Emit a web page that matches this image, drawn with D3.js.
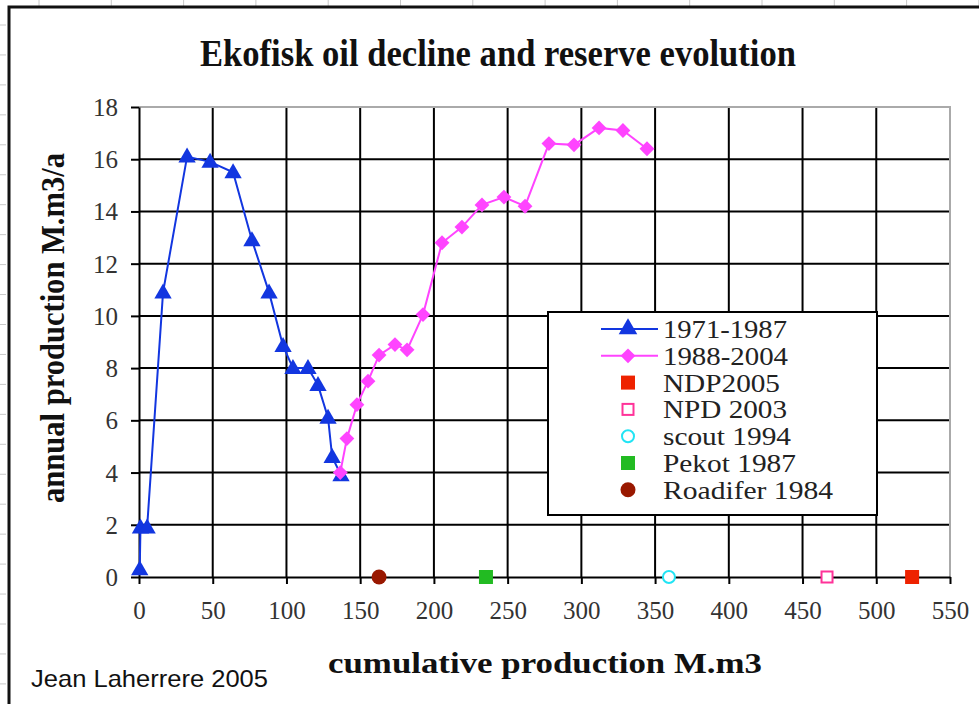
<!DOCTYPE html>
<html>
<head>
<meta charset="utf-8">
<script src="https://cdn.jsdelivr.net/npm/d3@7"></script>
<style>
  body { margin: 0; background: #fff; }
  svg { display: block; }
</style>
</head>
<body>
<svg id="chart" width="979" height="704"></svg>
<script>
// data: [cumulative M.m3, annual M.m3/a]
const early = [[0.5,0.3],[1,1.9],[5.5,1.9],[16.3,10.9],[32.6,16.1],[48.2,15.9],[63.8,15.5],[76.6,12.9],
  [88.2,10.9],[97.7,8.85],[104.4,8.0],[114.6,8.0],[121.4,7.35],[128.2,6.1],[131,4.6],[137,3.9]];
const late = [[136.5,4.0],[141,5.3],[147.8,6.6],[155.3,7.5],[162.8,8.5],[173.6,8.9],[181.8,8.7],
  [192.6,10.05],[205.5,12.8],[219,13.4],[232.6,14.25],[247.5,14.55],[261.8,14.2],[278,16.6],
  [295,16.55],[312,17.2],[328.2,17.1],[344.5,16.4]];
const reserveNames = ['NDP2005','NPD 2003','scout 1994','Pekot 1987','Roadifer 1984'];
const reserveValues = [524.3, 466.6, 359.4, 235.3, 162.8];
const xTicks = d3.range(0, 551, 50);
const yTicks = d3.range(0, 19, 2);

const svg = d3.select('#chart');
const serif = '"Liberation Serif","Times New Roman",serif';

// spreadsheet cells behind the chart object
const bg = svg.append('g').attr('stroke', '#c8c8c8').attr('stroke-width', 1);
d3.range(39, 979, 72.3).forEach(x => bg.append('line').attr('x1', x).attr('x2', x).attr('y1', 0).attr('y2', 6));
d3.range(25, 704, 29.95).forEach(y => bg.append('line').attr('x1', 0).attr('x2', 6).attr('y1', y).attr('y2', y));

// chart frame (runs off the right and bottom edges)
svg.append('path').attr('d', 'M9,710 L9,7 L985,7').attr('fill', 'none')
   .attr('stroke', '#111').attr('stroke-width', 3);

const x = d3.scaleLinear().domain([0, 550]).range([139, 950]);
const y = d3.scaleLinear().domain([0, 18]).range([577, 107]);

// grid
const grid = svg.append('g');
grid.selectAll('.hg').data(yTicks.filter(d => d > 0 && d < 18)).enter().append('line')
  .attr('x1', x(0)).attr('x2', x(550)).attr('y1', d => y(d)).attr('y2', d => y(d))
  .attr('stroke', '#000').attr('stroke-width', 2);
grid.selectAll('.vg').data(xTicks.filter(d => d > 0 && d < 550)).enter().append('line')
  .attr('y1', y(0)).attr('y2', y(18)).attr('x1', d => x(d)).attr('x2', d => x(d))
  .attr('stroke', '#000').attr('stroke-width', 2);
// plot area border top/right (grey)
grid.append('path').attr('d', `M${x(0)},${y(18)} L${x(550)},${y(18)} L${x(550)},${y(0)}`)
  .attr('fill', 'none').attr('stroke', '#aaa').attr('stroke-width', 2);

// axes
const xAxis = svg.append('g').attr('transform', `translate(0,${y(0)})`)
  .call(d3.axisBottom(x).tickValues(xTicks).tickSize(7).tickPadding(10).tickSizeOuter(0));
const yAxis = svg.append('g').attr('transform', `translate(${x(0)},0)`)
  .call(d3.axisLeft(y).tickValues(yTicks).tickSize(8).tickPadding(13).tickSizeOuter(0));
[xAxis, yAxis].forEach(a => {
  a.select('.domain').attr('stroke', '#000').attr('stroke-width', 2);
  a.selectAll('.tick line').attr('stroke', '#000').attr('stroke-width', 2);
  a.selectAll('.tick text').attr('font-family', serif).attr('font-size', 25).attr('fill', '#333');
});
xAxis.selectAll('.tick text').attr('dy', '1.0em');
yAxis.selectAll('.tick text').attr('dy', '0.34em');

// series lines
const line = d3.line().x(d => x(d[0])).y(d => y(d[1]));
const blue = '#1236e0', pink = '#ff44ff';
svg.append('path').datum(early).attr('d', line).attr('fill', 'none').attr('stroke', blue).attr('stroke-width', 2);
svg.append('path').datum(late).attr('d', line).attr('fill', 'none').attr('stroke', pink).attr('stroke-width', 2);

const tri = d3.symbol().type(d3.symbolTriangle).size(130);
const dia = d3.symbol().type(d3.symbolSquare).size(110);
svg.selectAll('.tri').data(early).enter().append('path')
  .attr('d', tri).attr('transform', d => `translate(${x(d[0])},${y(d[1]) + 1})`).attr('fill', blue);
svg.selectAll('.dia').data(late).enter().append('path')
  .attr('d', dia).attr('transform', d => `translate(${x(d[0])},${y(d[1])}) rotate(45)`).attr('fill', pink);

// reserve estimates on the zero line
const styles = {
  'NDP2005':       {shape: 'sq', fill: '#ee2200', stroke: 'none'},
  'NPD 2003':      {shape: 'sq', fill: '#fff', stroke: '#ff3399'},
  'scout 1994':    {shape: 'ci', fill: '#fff', stroke: '#22e4f4'},
  'Pekot 1987':    {shape: 'sq', fill: '#22bb22', stroke: 'none'},
  'Roadifer 1984': {shape: 'ci', fill: '#991800', stroke: 'none'}
};
function marker(g, name, cx, cy) {
  const s = styles[name];
  if (s.shape === 'sq') {
    const w = s.stroke === 'none' ? 14 : 11;
    g.append('rect').attr('x', cx - w / 2).attr('y', cy - w / 2).attr('width', w).attr('height', w)
      .attr('fill', s.fill).attr('stroke', s.stroke).attr('stroke-width', 2);
  } else {
    g.append('circle').attr('cx', cx).attr('cy', cy).attr('r', s.stroke === 'none' ? 7.5 : 6)
      .attr('fill', s.fill).attr('stroke', s.stroke).attr('stroke-width', 2);
  }
}
const pts = svg.append('g');
reserveNames.forEach((n, i) => marker(pts, n, x(reserveValues[i]), y(0)));

// legend
const lg = svg.append('g');
lg.append('rect').attr('x', 548).attr('y', 312).attr('width', 329).attr('height', 203)
  .attr('fill', '#fff').attr('stroke', '#000').attr('stroke-width', 2);
const legendNames = ['1971-1987', '1988-2004'].concat(reserveNames);
const legendWidths = [124, 125, 117, 124, 128, 133, 170];
legendNames.forEach((n, i) => {
  const cy = 329 + i * 26.8;
  if (i === 0) {
    lg.append('line').attr('x1', 601).attr('x2', 658).attr('y1', cy).attr('y2', cy).attr('stroke', blue).attr('stroke-width', 2);
    lg.append('path').attr('d', d3.symbol().type(d3.symbolTriangle).size(150)).attr('transform', `translate(628,${cy})`).attr('fill', blue);
  } else if (i === 1) {
    lg.append('line').attr('x1', 601).attr('x2', 658).attr('y1', cy).attr('y2', cy).attr('stroke', pink).attr('stroke-width', 2);
    lg.append('path').attr('d', dia).attr('transform', `translate(628,${cy}) rotate(45)`).attr('fill', pink);
  } else {
    marker(lg, n, 628, cy);
  }
  lg.append('text').attr('x', 663).attr('y', cy + 9).attr('font-family', serif).attr('font-size', 26)
    .attr('fill', '#222').attr('textLength', legendWidths[i]).attr('lengthAdjust', 'spacingAndGlyphs').text(n);
});

// titles
svg.append('text').attr('x', 498).attr('y', 66).attr('text-anchor', 'middle')
  .attr('font-family', serif).attr('font-weight', 'bold').attr('font-size', 37)
  .attr('textLength', 596).attr('lengthAdjust', 'spacingAndGlyphs').attr('fill', '#111')
  .text('Ekofisk oil decline and reserve evolution');
svg.append('text').attr('x', 545).attr('y', 673).attr('text-anchor', 'middle')
  .attr('font-family', serif).attr('font-weight', 'bold').attr('font-size', 30)
  .attr('textLength', 434).attr('lengthAdjust', 'spacingAndGlyphs').attr('fill', '#111')
  .text('cumulative production M.m3');
svg.append('text').attr('transform', 'translate(64,328) rotate(-90)').attr('text-anchor', 'middle')
  .attr('font-family', serif).attr('font-weight', 'bold').attr('font-size', 33)
  .attr('textLength', 350).attr('lengthAdjust', 'spacingAndGlyphs').attr('fill', '#111')
  .text('annual production M.m3/a');
svg.append('text').attr('x', 31).attr('y', 687)
  .attr('font-family', '"Liberation Sans",Arial,sans-serif').attr('font-size', 24)
  .attr('textLength', 237).attr('lengthAdjust', 'spacingAndGlyphs').attr('fill', '#111')
  .text('Jean Laherrere 2005');
</script>
</body>
</html>
